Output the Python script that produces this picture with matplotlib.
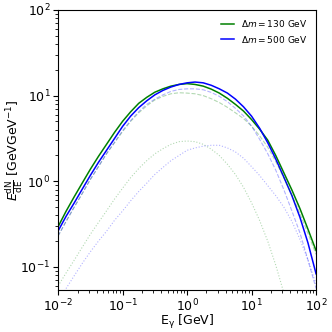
import numpy as np
import matplotlib.pyplot as plt

# photon energies (GeV), eighth-decade grid
energy = [0.01, 0.0133, 0.0178, 0.0237, 0.0316, 0.0422, 0.0562, 0.075,
          0.1, 0.133, 0.178, 0.237, 0.316, 0.422, 0.562, 0.75,
          1.0, 1.33, 1.78, 2.37, 3.16, 4.22, 5.62, 7.5,
          10.0, 13.3, 17.8, 23.7, 31.6, 42.2, 56.2, 75.0, 100.0]

# total spectra
total_130 = [0.295, 0.447, 0.66, 0.955, 1.38, 1.95, 2.69, 3.72,
             5.01, 6.46, 8.13, 9.55, 10.96, 12.0, 12.9, 13.5,
             13.8, 13.5, 12.9, 11.9, 10.7, 9.3, 7.9, 6.6,
             5.25, 4.07, 3.02, 2.0, 1.26, 0.79, 0.48, 0.275, 0.155]
total_500 = [0.263, 0.39, 0.56, 0.81, 1.17, 1.66, 2.29, 3.16,
             4.37, 5.75, 7.24, 8.7, 10.2, 11.5, 12.6, 13.5,
             14.1, 14.4, 14.1, 13.2, 12.0, 10.7, 9.1, 7.4,
             5.75, 4.17, 2.82, 1.82, 1.12, 0.68, 0.38, 0.19, 0.083]

# dashed components
dash_130 = [0.23, 0.34, 0.50, 0.72, 1.05, 1.48, 2.09, 2.82,
            3.8, 5.0, 6.3, 7.6, 8.9, 9.8, 10.5, 10.8,
            10.7, 10.5, 10.0, 9.2, 8.3, 7.3, 6.3, 5.4,
            4.4, 3.4, 2.5, 1.7, 1.1, 0.69, 0.42, 0.245, 0.14]
dash_500 = [0.23, 0.34, 0.50, 0.72, 1.05, 1.48, 2.09, 2.85,
            3.9, 5.1, 6.5, 7.9, 9.1, 10.2, 11.2, 11.8,
            12.0, 12.0, 11.7, 10.9, 9.8, 8.5, 7.1, 5.8,
            4.4, 3.1, 2.1, 1.35, 0.8, 0.45, 0.25, 0.12, 0.056]

# dotted components
dot_130 = [0.060, 0.085, 0.12, 0.17, 0.24, 0.33, 0.45, 0.62,
           0.83, 1.1, 1.41, 1.74, 2.09, 2.4, 2.7, 2.9,
           2.95, 2.9, 2.7, 2.37, 2.0, 1.58, 1.2, 0.85,
           0.56, 0.35, 0.2, 0.105, 0.05]
dot_500 = [0.04, 0.056, 0.079, 0.11, 0.15, 0.2, 0.26, 0.35,
           0.45, 0.59, 0.76, 0.95, 1.2, 1.45, 1.74, 2.0,
           2.3, 2.45, 2.57, 2.63, 2.63, 2.45, 2.2, 1.86,
           1.48, 1.17, 0.89, 0.68, 0.5, 0.34, 0.21, 0.12, 0.063]

fig = plt.figure(figsize=(3.32, 3.32), dpi=100)
ax = fig.add_axes([0.175, 0.127, 0.777, 0.843])

ax.plot(energy, total_130, color='green', lw=1.1, label=r'$\Delta m = 130$ GeV')
ax.plot(energy, total_500, color='blue', lw=1.1, label=r'$\Delta m = 500$ GeV')
ax.plot(energy, dash_130, color='green', lw=0.8, ls='--', alpha=0.3)
ax.plot(energy, dash_500, color='blue', lw=0.8, ls='--', alpha=0.3)
ax.plot(energy[:len(dot_130)], dot_130, color='green', lw=0.8, ls=':', alpha=0.3)
ax.plot(energy, dot_500, color='blue', lw=0.8, ls=':', alpha=0.3)

ax.set_xscale('log')
ax.set_yscale('log')
ax.set_xlim(1e-2, 1e2)
ax.set_ylim(0.054, 100)
ax.set_xlabel(r'E$_\mathrm{\gamma}$ [GeV]', fontsize=9, labelpad=-1)
ax.set_ylabel(r'$E\frac{\mathrm{dN}}{\mathrm{dE}}$ [GeVGeV$^{-1}$]', fontsize=9, labelpad=-3)
ax.tick_params(labelsize=9, pad=2)
ax.legend(loc='upper right', fontsize=6.5, frameon=False, handlelength=1.5)

fig.savefig('out.png', dpi=100)
